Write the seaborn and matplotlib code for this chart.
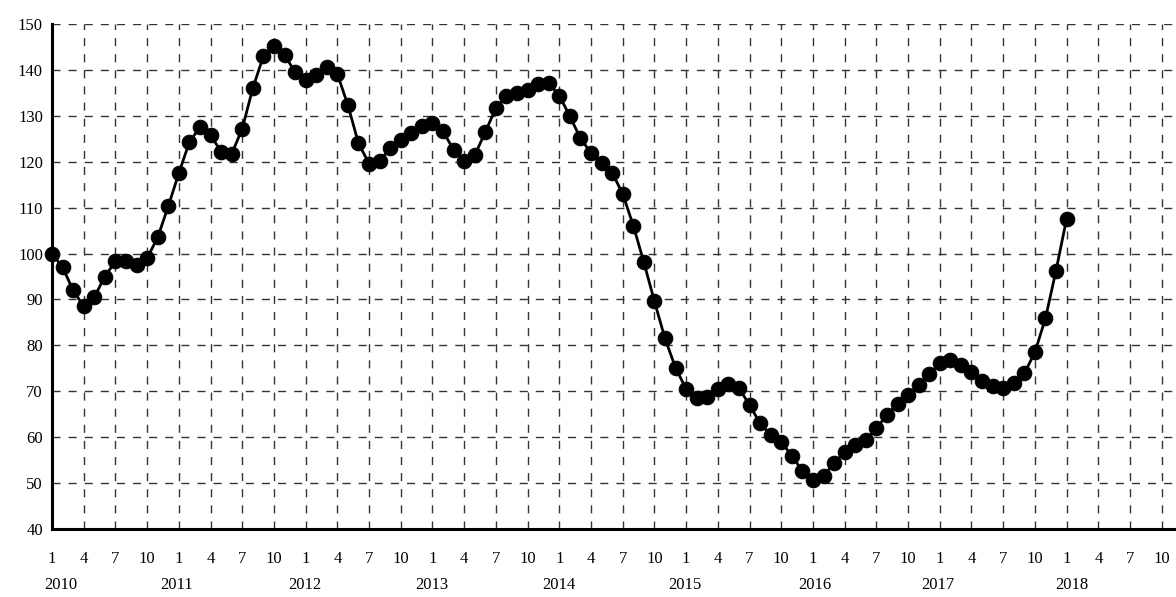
import matplotlib
matplotlib.use("Agg")
import matplotlib.pyplot as plt
import matplotlib.transforms as mtransforms
import seaborn as sns
import numpy as np
import pandas as pd

# monthly index values, Jan 2010 .. Jan 2018
years = [2010, 2011, 2012, 2013, 2014, 2015, 2016, 2017, 2018]
values_2010 = [100.0, 97.0, 92.0, 88.5, 90.5, 95.0, 98.3, 98.3, 97.5, 99.0, 103.5, 110.3]
values_2011 = [117.5, 124.3, 127.5, 125.8, 122.2, 121.7, 127.2, 136.0, 143.0, 145.3, 143.3, 139.5]
values_2012 = [137.7, 138.8, 140.6, 139.1, 132.3, 124.0, 119.6, 120.2, 122.9, 124.8, 126.3, 127.8]
values_2013 = [128.5, 126.6, 122.6, 120.2, 121.4, 126.5, 131.7, 134.4, 134.9, 135.6, 137.0, 137.1]
values_2014 = [134.4, 129.9, 125.1, 121.9, 119.8, 117.6, 113.0, 106.1, 98.1, 89.6, 81.5, 75.1]
values_2015 = [70.5, 68.5, 68.8, 70.4, 71.6, 70.7, 67.0, 63.0, 60.5, 58.9, 56.0, 52.6]
values_2016 = [50.7, 51.5, 54.4, 56.8, 58.2, 59.4, 61.9, 64.9, 67.3, 69.1, 71.3, 73.8]
values_2017 = [76.1, 76.8, 75.8, 74.1, 72.3, 71.1, 70.8, 71.7, 73.9, 78.5, 85.9, 96.3]
values_2018 = [107.6]

tick_months = ["1", "4", "7", "10"]
y_ticks = list(range(40, 151, 10))

values = (values_2010 + values_2011 + values_2012 + values_2013 + values_2014
          + values_2015 + values_2016 + values_2017 + values_2018)
df = pd.DataFrame({"month": np.arange(len(values)), "value": values})

sns.set_style("white")
plt.rcParams["font.family"] = ["Liberation Serif", "DejaVu Serif"]

fig = plt.figure(figsize=(11.76, 5.97), dpi=100)
ax = fig.add_axes([52 / 1176, 68 / 597, 1124 / 1176, 505 / 597])

ax.set_axisbelow(True)
ax.grid(True, linestyle=(0, (5.8, 5.8)), color="0.2", linewidth=1.0)

sns.lineplot(data=df, x="month", y="value", ax=ax, color="black",
             linewidth=2.0, marker="o", markersize=10.5,
             markeredgecolor="black", markerfacecolor="black", clip_on=False)

n_months = 12 * (len(years) - 1) + 12
xticks = list(range(0, n_months - 1, 3))
ax.set_xticks(xticks)
ax.set_xticklabels([tick_months[i % 4] for i in range(len(xticks))])
ax.set_yticks(y_ticks)
ax.set_xlim(0, 106.35)
ax.set_ylim(40, 150)
ax.set_xlabel("")
ax.set_ylabel("")

for side in ["top", "right"]:
    ax.spines[side].set_visible(False)
for side in ["left", "bottom"]:
    ax.spines[side].set_color("black")
    ax.spines[side].set_linewidth(2.2)

ax.tick_params(axis="both", direction="inout", length=9, width=2,
               colors="black", labelsize=12)
ax.tick_params(axis="x", pad=11)
ax.tick_params(axis="y", pad=2)

# year labels under the month ticks
year_shift = [0.8, -0.2, -0.1, -0.1, 0.0, -0.1, 0.2, -0.2, 0.5]
trans = mtransforms.blended_transform_factory(ax.transData, ax.transAxes)
for k, yr in enumerate(years):
    ax.text(12 * k + year_shift[k], -0.11, str(yr), transform=trans,
            ha="center", va="center", fontsize=12, color="black")

fig.savefig("out.png", dpi=100)
